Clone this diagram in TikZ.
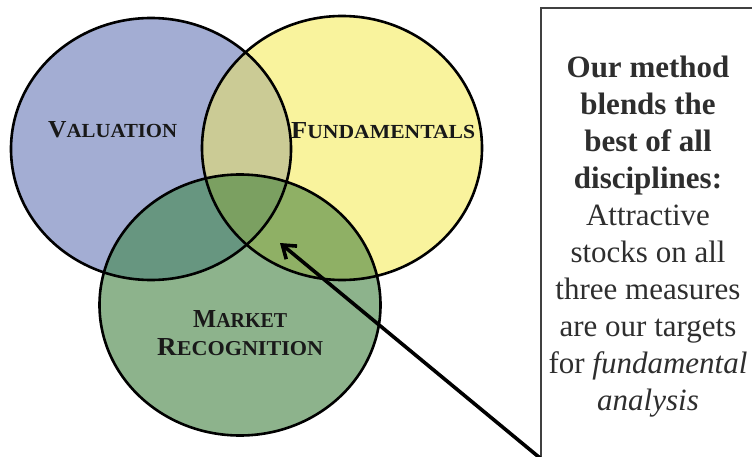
\documentclass[tikz,border=0pt]{standalone}
\usepackage{fontspec}
\setmainfont{Liberation Serif}
\usetikzlibrary{arrows.meta}
\definecolor{cV}{HTML}{A3ADD3}
\definecolor{cF}{HTML}{F9F39D}
\definecolor{cM}{HTML}{8DB38C}
\definecolor{cVF}{HTML}{CBCB95}
\definecolor{cVM}{HTML}{679680}
\definecolor{cFM}{HTML}{8FB065}
\definecolor{cVFM}{HTML}{7BA061}
\definecolor{boxline}{HTML}{404040}
\definecolor{boxtext}{HTML}{2E2E2E}
\newcommand{\sclab}[4]{\resizebox{#3pt}{#4pt}{\bfseries{\fontsize{24pt}{24pt}\selectfont #1}{\fontsize{19.6pt}{20pt}\selectfont #2}}}
\begin{document}
\begin{tikzpicture}[x=1pt,y=-1pt,
  outline/.style={draw=black,line width=2.6pt},
  lab/.style={anchor=base west,inner sep=0pt,text=black!90},
  pointer/.style={line width=3.6pt,-{Straight Barb[length=12pt,width=17pt]}}]
\useasboundingbox (0,0) rectangle (752,457);
\def\V{(151,149) ellipse [x radius=140pt, y radius=131pt]}
\def\F{(342,148) ellipse [x radius=140pt, y radius=132pt]}
\def\M{(240,305) ellipse [x radius=140.5pt, y radius=130.5pt]}
% base fills
\fill[cV] \V;
\fill[cF] \F;
\fill[cM] \M;
% overlaps
\begin{scope}\clip \V; \fill[cVF] \F; \end{scope}
\begin{scope}\clip \V; \fill[cVM] \M; \end{scope}
\begin{scope}\clip \F; \fill[cFM] \M; \end{scope}
\begin{scope}\clip \V; \clip \F; \fill[cVFM] \M; \end{scope}
% outlines
\draw[outline] \V;
\draw[outline] \F;
\draw[outline] \M;
% labels
\node[lab] (val) at (48,138) {\sclab{V}{ALUATION}{129}{16}};
\node[lab] (fun) at (291,139) {\sclab{F}{UNDAMENTALS}{184}{16}};
\node[lab] (mkt) at (193,327) {\sclab{M}{ARKET}{94}{17}};
\node[lab] (rec) at (157,355) {\sclab{R}{ECOGNITION}{166}{17}};
% text box
\draw[boxline,line width=2pt] (760,8) -- (540.5,8) -- (540.5,470);
\node[anchor=north,inner sep=0pt,align=center,text=boxtext,
  font=\fontsize{31pt}{37pt}\selectfont] (txt) at (648,56)
  {\textbf{Our method}\\\textbf{blends the}\\\textbf{best of all}\\\textbf{disciplines:}\\
   Attractive\\stocks on all\\three measures\\are our targets\\for \textit{fundamental}\\\textit{analysis}};
% arrow
\coordinate (astart) at (540,458);
\coordinate (atip) at (280,243);
\draw[pointer] (astart) -- (atip);
\end{tikzpicture}
\end{document}
